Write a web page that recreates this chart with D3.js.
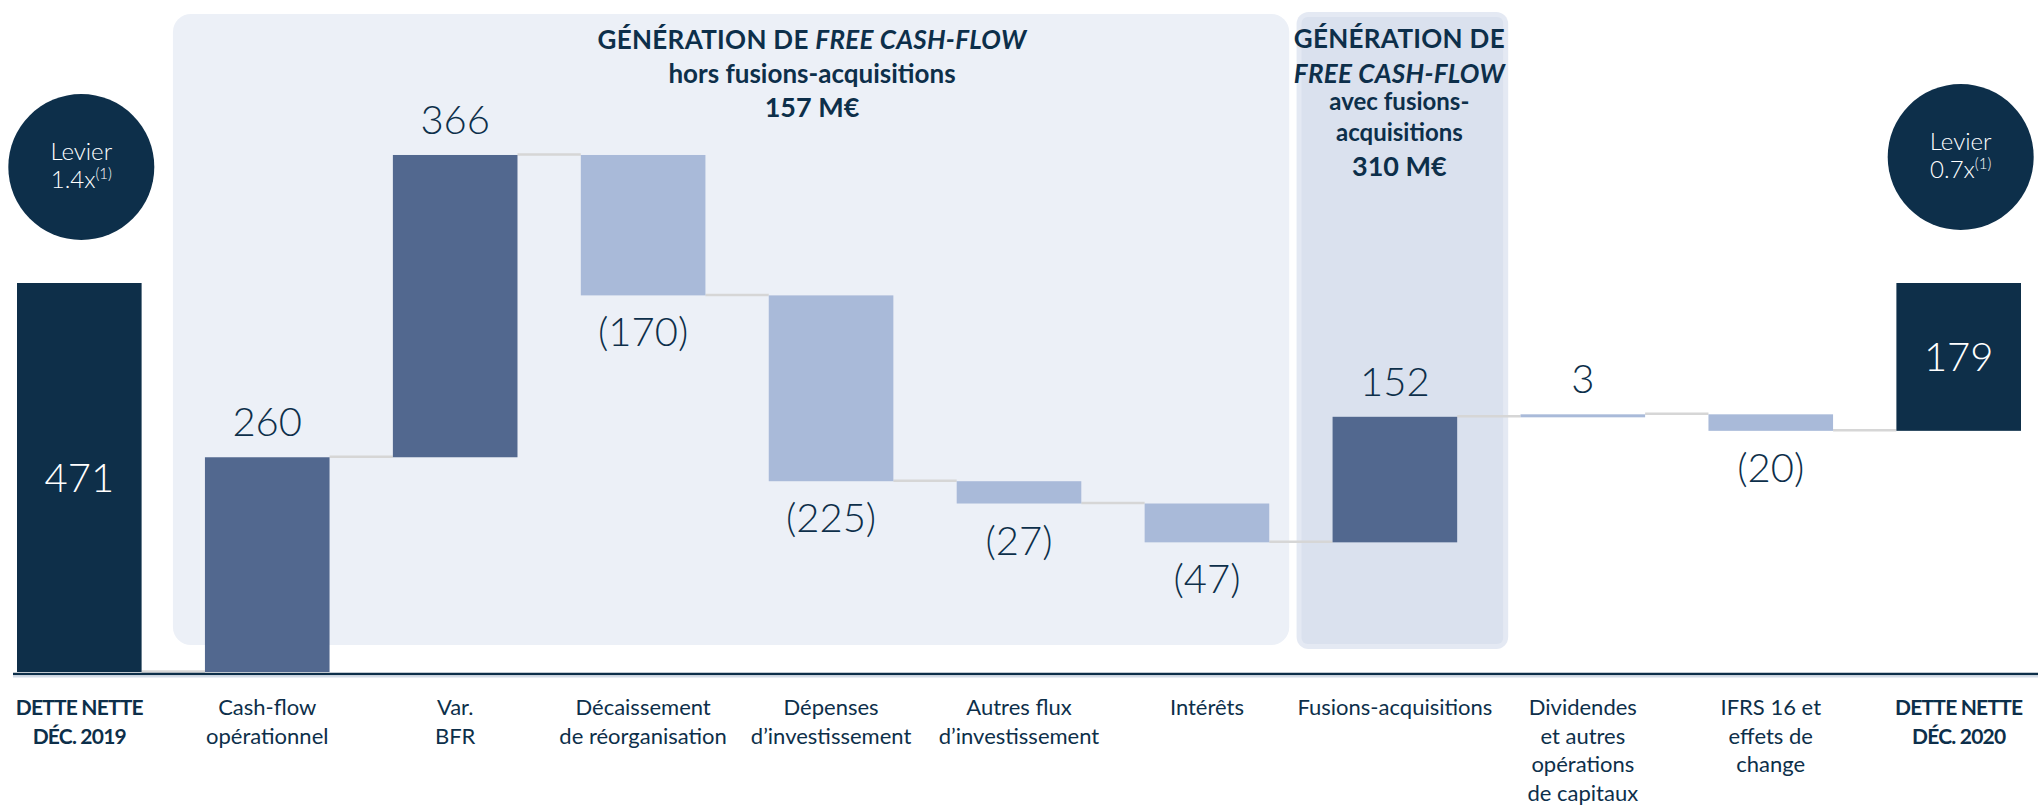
<!DOCTYPE html>
<html>
<head>
<meta charset="utf-8">
<script src="https://cdn.jsdelivr.net/npm/d3@7"></script>
<style>
  body { margin: 0; background: #fff; }
  text { font-family: Lato, "Noto Sans", sans-serif; }
</style>
</head>
<body>
<svg id="chart"></svg>
<script>
// data (M€)
var categories = [
  ["DETTE NETTE", "DÉC. 2019"],
  ["Cash-flow", "opérationnel"],
  ["Var.", "BFR"],
  ["Décaissement", "de réorganisation"],
  ["Dépenses", "d’investissement"],
  ["Autres flux", "d’investissement"],
  ["Intérêts"],
  ["Fusions-acquisitions"],
  ["Dividendes", "et autres", "opérations", "de capitaux"],
  ["IFRS 16 et", "effets de", "change"],
  ["DETTE NETTE", "DÉC. 2020"]
];
var values = [471, 260, 366, -170, -225, -27, -47, 152, 3, -20, 179];
var valueLabels = ["471", "260", "366", "(170)", "(225)", "(27)", "(47)", "152", "3", "(20)", "179"];
var barKinds = ["total", "major", "major", "minor", "minor", "minor", "minor", "major", "minor", "minor", "total"];
var leverage = ["1.4x", "0.7x"];
var titleHors = ["hors fusions-acquisitions", "157 M€"];
var titleAvec = ["avec fusions-", "acquisitions", "310 M€"];

var width = 2038,
    height = 805,
    navy = "#0D2F4A";

var colors = { total: "#0E2F49", major: "#52688F", minor: "#A9BAD9" };

var svg = d3.select("#chart")
    .attr("width", width)
    .attr("height", height);

var x = d3.scaleBand()
    .domain(d3.range(categories.length))
    .range([17, 2021])
    .paddingInner(0.337)
    .paddingOuter(0);

var y = d3.scaleLinear()
    .domain([0, 471])
    .range([672, 283]);

// waterfall: first total from 0, steps accumulate from 0, last total sits on the running sum
var bars = [], cum = 0;
values.forEach(function(v, i) {
  var lo, hi, next;
  if (i === 0) { lo = 0; hi = v; next = 0; }
  else if (i === values.length - 1) { lo = cum; hi = cum + v; next = null; }
  else {
    lo = Math.min(cum, cum + v); hi = Math.max(cum, cum + v);
    cum += v; next = cum;
  }
  bars.push({ i: i, v: v, lo: lo, hi: hi, next: next, kind: barKinds[i], label: valueLabels[i] });
});

var bw = x.bandwidth();

// background panels
svg.append("rect")
    .attr("x", x(1) - 32).attr("y", 14)
    .attr("width", x(6) + bw + 20 - (x(1) - 32)).attr("height", 631)
    .attr("rx", 18)
    .attr("fill", "#ECF0F7");

var p2x = x(7) - 36, p2w = x(7) + bw + 51 - p2x;
svg.append("rect")
    .attr("x", p2x).attr("y", 12)
    .attr("width", p2w).attr("height", 637)
    .attr("rx", 12)
    .attr("fill", "#E4E9F3");
svg.append("rect")
    .attr("x", p2x + 5).attr("y", 17)
    .attr("width", p2w - 10).attr("height", 627)
    .attr("rx", 6)
    .attr("fill", "#DAE1EE");

// connectors
svg.selectAll("line.conn")
    .data(bars.filter(function(d) { return d.next !== null; }))
    .enter().append("line")
    .attr("class", "conn")
    .attr("x1", function(d) { return x(d.i) + bw; })
    .attr("x2", function(d) { return x(d.i + 1); })
    .attr("y1", function(d) { return y(d.next) - 0.5; })
    .attr("y2", function(d) { return y(d.next) - 0.5; })
    .attr("stroke", "#D6D6D6")
    .attr("stroke-width", 2.5);

// bars
svg.selectAll("rect.bar")
    .data(bars)
    .enter().append("rect")
    .attr("class", "bar")
    .attr("x", function(d) { return x(d.i); })
    .attr("y", function(d) { return y(d.hi); })
    .attr("width", bw)
    .attr("height", function(d) { return Math.max(3, y(d.lo) - y(d.hi)); })
    .attr("fill", function(d) { return colors[d.kind]; });

// axis line
svg.append("line")
    .attr("x1", 13).attr("x2", width)
    .attr("y1", 674).attr("y2", 674)
    .attr("stroke", navy).attr("stroke-width", 2.5);
svg.append("line")
    .attr("x1", 13).attr("x2", width)
    .attr("y1", 676.5).attr("y2", 676.5)
    .attr("stroke", "#D3DCE8").attr("stroke-width", 2);

// value labels
svg.selectAll("text.val")
    .data(bars)
    .enter().append("text")
    .attr("class", "val")
    .attr("text-anchor", "middle")
    .attr("x", function(d) { return x(d.i) + bw / 2; })
    .attr("y", function(d) {
      if (d.kind === "total") return (y(d.lo) + y(d.hi)) / 2 + 14;
      if (d.v > 0) return y(d.hi) - 21;
      return y(d.lo) + 51;
    })
    .attr("font-size", "40px")
    .attr("font-weight", 300)
    .attr("fill", function(d) { return d.kind === "total" ? "#fff" : navy; })
    .text(function(d) { return d.label; });

// category labels
var cats = svg.selectAll("text.cat")
    .data(categories)
    .enter().append("text")
    .attr("class", "cat")
    .attr("text-anchor", "middle")
    .attr("fill", navy)
    .attr("font-size", function(d, i) { return barKinds[i] === "total" ? "21px" : "22px"; })
    .attr("font-weight", function(d, i) { return barKinds[i] === "total" ? 700 : 400; })
    .attr("letter-spacing", function(d, i) { return barKinds[i] === "total" ? "-0.8px" : "0px"; });

cats.each(function(lines, i) {
  d3.select(this).selectAll("tspan")
    .data(lines)
    .enter().append("tspan")
    .attr("x", x(i) + bw / 2)
    .attr("y", function(l, k) { return 715 + k * 28.5; })
    .text(function(l) { return l; });
});

// leverage circles
var circles = [{ i: 0, cy: 167, txt: leverage[0] }, { i: categories.length - 1, cy: 157, txt: leverage[1] }];
circles.forEach(function(c) {
  var cx = x(c.i) + bw / 2 + 2;
  svg.append("circle")
    .attr("cx", cx).attr("cy", c.cy).attr("r", 73)
    .attr("fill", navy);
  svg.append("text")
    .attr("x", cx).attr("y", c.cy - 7)
    .attr("text-anchor", "middle")
    .attr("font-size", "24px").attr("font-weight", 300)
    .attr("fill", "#fff")
    .text("Levier");
  var t = svg.append("text")
    .attr("x", cx).attr("y", c.cy + 21)
    .attr("text-anchor", "middle")
    .attr("font-size", "24px").attr("font-weight", 300)
    .attr("fill", "#fff");
  t.append("tspan").text(c.txt);
  t.append("tspan").attr("font-size", "15px").attr("dy", -9).text("(1)");
});

// panel titles
var t1 = svg.append("text")
    .attr("x", 812).attr("y", 49)
    .attr("text-anchor", "middle")
    .attr("font-size", "26px").attr("font-weight", 700)
    .attr("letter-spacing", "0.3px")
    .attr("fill", navy);
t1.append("tspan").text("GÉNÉRATION DE ");
t1.append("tspan").attr("font-style", "italic").text("FREE CASH-FLOW");

svg.append("text")
    .attr("x", 812).attr("y", 83)
    .attr("text-anchor", "middle")
    .attr("font-size", "26px").attr("font-weight", 700)
    .attr("fill", navy)
    .text(titleHors[0]);
svg.append("text")
    .attr("x", 812).attr("y", 117)
    .attr("text-anchor", "middle")
    .attr("font-size", "27px").attr("font-weight", 700)
    .attr("fill", navy)
    .text(titleHors[1]);

var c2 = p2x + p2w / 2 - 3;
svg.append("text")
    .attr("x", c2).attr("y", 48)
    .attr("text-anchor", "middle")
    .attr("font-size", "26px").attr("font-weight", 700)
    .attr("letter-spacing", "0.3px")
    .attr("fill", navy)
    .text("GÉNÉRATION DE");
svg.append("text")
    .attr("x", c2).attr("y", 83)
    .attr("text-anchor", "middle")
    .attr("font-size", "26px").attr("font-weight", 700).attr("font-style", "italic")
    .attr("letter-spacing", "0.3px")
    .attr("fill", navy)
    .text("FREE CASH-FLOW");
svg.selectAll("text.avec")
    .data(titleAvec)
    .enter().append("text")
    .attr("class", "avec")
    .attr("x", c2)
    .attr("y", function(d, k) { return [110, 141, 176][k]; })
    .attr("text-anchor", "middle")
    .attr("font-size", function(d, k) { return k < 2 ? "24px" : "27px"; })
    .attr("font-weight", 700)
    .attr("fill", navy)
    .text(function(d) { return d; });
</script>
</body>
</html>
